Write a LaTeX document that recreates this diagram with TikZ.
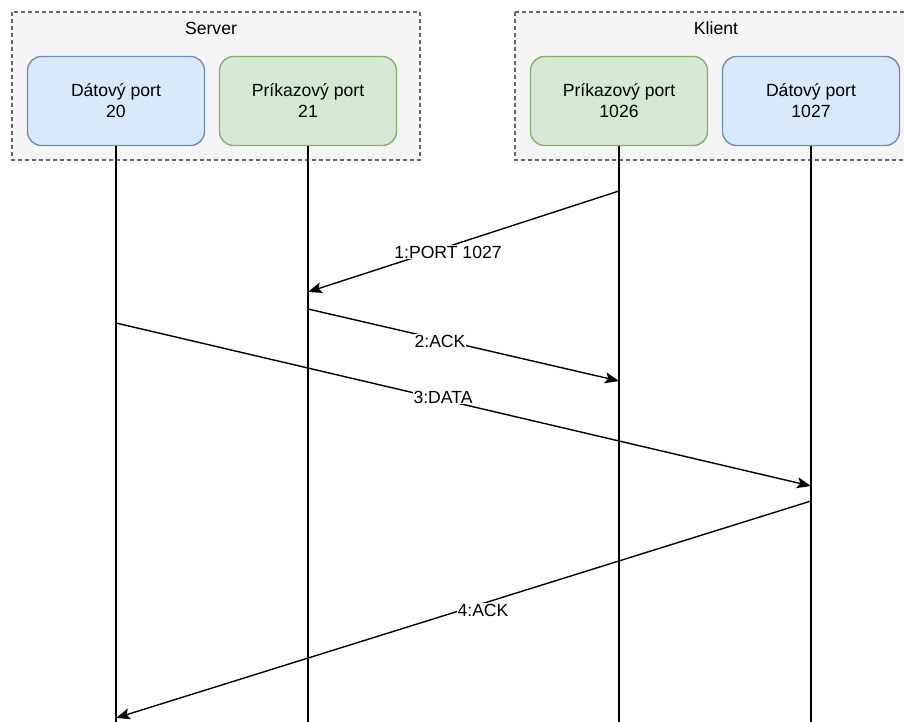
\documentclass[tikz,border=0pt]{standalone}
\usepackage{fontspec}
\setmainfont{Liberation Sans}
\usetikzlibrary{arrows.meta}
\definecolor{grpfill}{HTML}{F5F5F5}
\definecolor{grpline}{HTML}{666666}
\definecolor{bluefill}{HTML}{DAE8FC}
\definecolor{blueline}{HTML}{6C8EBF}
\definecolor{greenfill}{HTML}{D5E8D4}
\definecolor{greenline}{HTML}{82B366}
\tikzset{
  grp/.style={draw=grpline, fill=grpfill, dashed, dash pattern=on 4pt off 3pt, line width=1.2pt},
  grptitle/.style={font=\fontsize{17.6}{21}\selectfont, inner sep=0pt},
  port/.style={rounded corners=14pt, line width=1.4pt, minimum width=177pt, minimum height=89pt,
    align=center, font=\fontsize{17.6}{21}\selectfont, inner sep=0pt},
  dataport/.style={port, draw=blueline, fill=bluefill},
  cmdport/.style={port, draw=greenline, fill=greenfill},
  life/.style={line width=1.4pt, black},
  msg/.style={line width=1.4pt, black, -{Stealth[length=14pt, width=11pt, inset=3pt]}},
  msglabel/.style={fill=white, inner sep=1pt, font=\fontsize{17.6}{21}\selectfont}
}
\begin{document}
\begin{tikzpicture}[x=1pt, y=-1pt]
\useasboundingbox (0,0) rectangle (904,722);
% groups
\draw[grp] (12,12) rectangle (420,160);
\draw[grp] (515,12) rectangle (908,160);
\node[grptitle] (srvt) at (211,28) {Server};
\node[grptitle] (klt) at (716,28) {Klient};
% ports
\node[dataport] (d20) at (116,101) {Dátový port\\20};
\node[cmdport] (c21) at (308,101) {Príkazový port\\21};
\node[cmdport] (c1026) at (619,101) {Príkazový port\\1026};
\node[dataport] (d1027) at (811,101) {Dátový port\\1027};
% lifeline ends
\coordinate (e20) at (116,725);
\coordinate (e21) at (308,725);
\coordinate (e1026) at (619,725);
\coordinate (e1027) at (811,725);
\draw[life] (d20.south) -- (e20);
\draw[life] (c21.south) -- (e21);
\draw[life] (c1026.south) -- (e1026);
\draw[life] (d1027.south) -- (e1027);
% message endpoints
\coordinate (m1a) at (619,191);
\coordinate (m1b) at (308,292);
\coordinate (m2a) at (308,309);
\coordinate (m2b) at (619,381);
\coordinate (m3a) at (116,323);
\coordinate (m3b) at (811,486);
\coordinate (m4a) at (811,501);
\coordinate (m4b) at (116,718);
\draw[msg] (m1a) -- (m1b);
\draw[msg] (m2a) -- (m2b);
\draw[msg] (m3a) -- (m3b);
\draw[msg] (m4a) -- (m4b);
% labels
\node[msglabel] (l1) at (448,252) {1:PORT 1027};
\node[msglabel] (l2) at (440,341) {2:ACK};
\node[msglabel] (l3) at (443,397) {3:DATA};
\node[msglabel] (l4) at (483,610) {4:ACK};
\end{tikzpicture}
\end{document}
